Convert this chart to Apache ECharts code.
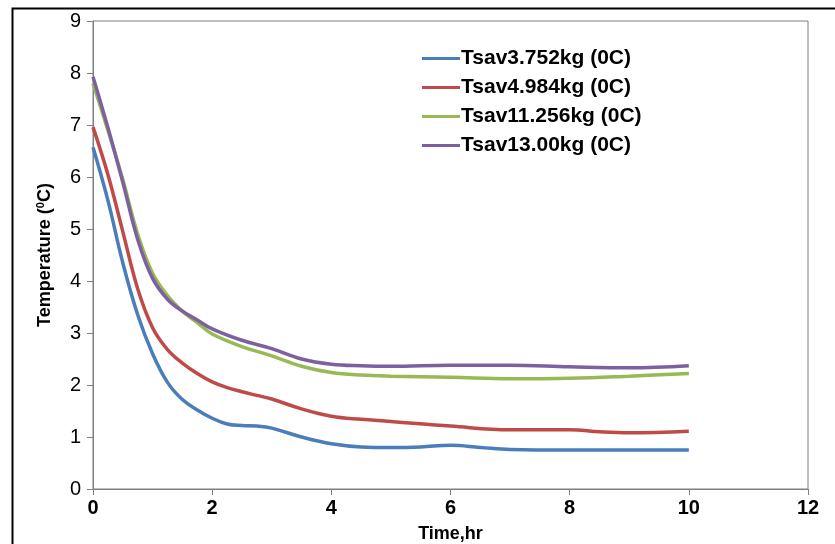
<!DOCTYPE html>
<html>
<head>
<meta charset="utf-8">
<script src="https://cdn.jsdelivr.net/npm/echarts@6/dist/echarts.min.js"></script>
<style>html,body{margin:0;padding:0;background:#fff}#c{width:835px;height:544px}</style>
</head>
<body>
<div id="c"></div>
<script>
const seriesNames = ['Tsav3.752kg (0C)', 'Tsav4.984kg (0C)', 'Tsav11.256kg (0C)', 'Tsav13.00kg (0C)'];
const blueT = [0,0.25,0.5,0.75,1,1.25,1.5,1.75,2,2.25,2.5,2.75,3,3.5,4,4.5,5,5.5,6,6.5,7,8,9,10];
const blueV = [6.57,5.55,4.35,3.35,2.6,2.05,1.72,1.52,1.36,1.25,1.22,1.21,1.17,1.0,0.87,0.81,0.80,0.81,0.84,0.80,0.76,0.75,0.75,0.75];
const redT = [0,0.25,0.5,0.75,1,1.25,1.5,1.75,2,2.25,2.5,2.75,3,3.5,4,4.5,5,6,7,7.5,8,8.5,9,10];
const redV = [6.96,6.05,4.95,3.85,3.1,2.68,2.42,2.22,2.06,1.95,1.87,1.8,1.73,1.54,1.40,1.34,1.30,1.21,1.14,1.14,1.14,1.1,1.08,1.11];
const greenT = [0,0.25,0.5,0.75,1,1.25,1.5,1.75,2,2.5,3,3.5,4,4.5,5,6,7,8,9,10];
const greenV = [7.8,6.9,5.95,4.9,4.15,3.72,3.42,3.2,2.98,2.74,2.56,2.36,2.24,2.19,2.17,2.15,2.12,2.13,2.17,2.22];
const purpleT = [0,0.25,0.5,0.75,1,1.25,1.5,1.75,2,2.5,3,3.5,4,4.5,5,6,7,8,9,10];
const purpleV = [7.93,6.95,5.9,4.8,4.05,3.65,3.42,3.25,3.08,2.86,2.7,2.5,2.4,2.37,2.36,2.38,2.38,2.35,2.33,2.37];
const colors = ['#4A7EBB', '#BE4B48', '#98B954', '#7D60A0'];

const pairs = (t, v) => t.map((x, i) => [x, v[i]]);
const allData = [pairs(blueT, blueV), pairs(redT, redV), pairs(greenT, greenV), pairs(purpleT, purpleV)];

const chart = echarts.init(document.getElementById('c'), null, {renderer: 'canvas'});
chart.setOption({
  animation: false,
  backgroundColor: '#fff',
  color: colors,
  grid: {left: 93, top: 21, right: 27, bottom: 55, show: true, borderColor: '#7f7f7f', borderWidth: 1,
         containLabel: false, outerBoundsMode: 'none'},
  legend: {
    orient: 'vertical', left: 417, top: 43, itemGap: 8,
    itemWidth: 38, itemHeight: 3,
    icon: 'rect',
    textStyle: {fontFamily: 'Liberation Sans, Arial', fontWeight: 'bold', fontSize: 21, color: '#000', padding: [0,0,0,-4]},
    data: seriesNames
  },
  xAxis: {
    type: 'value', min: 0, max: 12, interval: 2,
    name: 'Time,hr', nameLocation: 'middle', nameGap: 36,
    nameTextStyle: {fontFamily: 'Liberation Sans, Arial', fontWeight: 'bold', fontSize: 18, color: '#000'},
    axisLine: {show: true, lineStyle: {color: '#7f7f7f', width: 1}},
    axisTick: {show: true, inside: false, length: 6, lineStyle: {color: '#7f7f7f'}},
    axisLabel: {fontFamily: 'Liberation Sans, Arial', fontWeight: 'bold', fontSize: 20, color: '#000', margin: 9},
    splitLine: {show: false}
  },
  yAxis: {
    type: 'value', min: 0, max: 9, interval: 1,
    name: '{a|Temperature (}{s|0}{a|C)}', nameLocation: 'middle', nameGap: 38, nameRotate: 90,
    nameTextStyle: {
      rich: {
        a: {fontFamily: 'Liberation Sans, Arial', fontWeight: 'bold', fontSize: 18, color: '#000'},
        s: {fontFamily: 'Liberation Sans, Arial', fontWeight: 'bold', fontSize: 11, color: '#000', verticalAlign: 'top', padding: [0,0,9,0]}
      }
    },
    axisLine: {show: true, lineStyle: {color: '#7f7f7f', width: 1}},
    axisTick: {show: true, inside: false, length: 6, lineStyle: {color: '#7f7f7f'}},
    axisLabel: {fontFamily: 'Liberation Sans, Arial', fontSize: 20, color: '#000', margin: 12},
    splitLine: {show: false}
  },
  graphic: [{
    type: 'rect', left: 10, top: 6, silent: true,
    shape: {width: 840, height: 560},
    style: {fill: null, stroke: '#000', lineWidth: 2}
  }],
  series: seriesNames.map((n, i) => ({
    name: n, type: 'line', smooth: 0.4, showSymbol: false, symbol: 'none',
    data: allData[i],
    lineStyle: {width: 3.5, color: colors[i]},
    z: i === 2 ? 2 : 3
  }))
});
</script>
</body>
</html>
